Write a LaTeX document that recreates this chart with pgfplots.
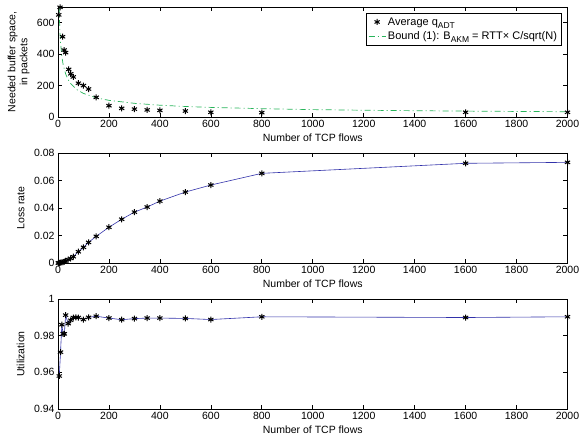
\documentclass[border=0pt]{standalone}
\usepackage{fontspec}
\setmainfont{Liberation Sans}
\usepackage{pgfplots}
\pgfplotsset{compat=1.18}

\definecolor{bndgreen}{RGB}{40,180,90}
\definecolor{lineblue}{RGB}{50,50,170}
\newcommand{\sub}[1]{\raisebox{-3pt}{\fontsize{8.5}{8.5}\selectfont #1}}

\pgfplotsset{
  panel/.style={
    scale only axis, width=509.5pt, height=110pt,
    xmin=0, xmax=2000, xtick={0,200,...,2000},
    tick align=inside, major tick length=4pt,
    axis line style={line width=0.8pt}, every tick/.style={black, line width=0.6pt},
    tick label style={font=\fontsize{10.5}{12}\selectfont},
    label style={font=\fontsize{10.5}{12}\selectfont},
    /pgf/number format/assume math mode=true,
    /pgf/number format/set thousands separator={},
    scaled ticks=false, clip=false,
    xlabel={Number of TCP flows},
    xlabel style={yshift=1pt},
    ylabel style={at={(axis description cs:0,0.5)}, anchor=south, yshift=30pt},
  },
  star/.style={only marks, mark=asterisk, mark size=3pt, black, line width=1pt},
}

\begin{document}
\begin{tikzpicture}
\path[use as bounding box] (-58pt,-326pt) rectangle (521pt,117pt);

% buffer space
\begin{axis}[panel, ymin=0, ymax=700, ytick={0,200,400,600},
  ylabel={Needed buffer space,\\in packets},
  ylabel style={align=center, yshift=-5pt},
  legend style={at={(rel axis cs:0.988,0.945)}, anchor=north east,
    font=\fontsize{11}{13}\selectfont, draw=black, line width=0.8pt,
    row sep=1pt, inner sep=2pt},
  legend cell align=left]
\addplot[star] coordinates {
 (3,650) (8,698) (18,511) (24,426) (30,410) (42,303) (50,275) (60,255)
 (80,215) (100,200) (120,178) (150,125) (200,72) (250,55) (300,50)
 (350,45) (400,42) (500,38) (600,30) (800,28) (1600,30) (2000,30)};
\addlegendentry{Average q\sub{ADT}}
\addplot[bndgreen, line width=0.7pt, dash pattern=on 6pt off 3pt on 1pt off 3pt] coordinates {
 (4.6,700) (6,612) (8,530) (10,474) (15,387) (20,335) (30,274) (40,237)
 (50,212) (75,173) (100,150) (150,122) (200,106) (300,87) (400,75)
 (500,67) (600,61) (800,53) (1000,47) (1200,43) (1400,40) (1600,37.5)
 (1800,35.4) (2000,33.5)};
\addlegendentry{Bound (1): B\sub{AKM} = RTT× C/sqrt(N)}
\end{axis}

% loss rate
\begin{axis}[panel, at={(0,-146pt)}, ymin=0, ymax=0.08,
  ytick={0,0.02,0.04,0.06,0.08},
  yticklabel style={/pgf/number format/fixed, /pgf/number format/precision=2},
  ylabel={Loss rate}]
\addplot[lineblue, line width=0.6pt] coordinates {
 (1,0) (3,0) (5,0.0001) (10,0.0002) (15,0.0004) (20,0.0007) (25,0.001)
 (30,0.0015) (40,0.0025) (50,0.0033) (60,0.0046) (80,0.0082) (100,0.0114)
 (120,0.015) (150,0.0194) (200,0.026) (250,0.0318) (300,0.037)
 (350,0.0407) (400,0.045) (500,0.0516) (600,0.0567) (800,0.0652)
 (1600,0.0725) (2000,0.0732)};
\addplot[star] coordinates {
 (1,0) (3,0) (5,0.0001) (10,0.0002) (15,0.0004) (20,0.0007) (25,0.001)
 (30,0.0015) (40,0.0025) (50,0.0033) (60,0.0046) (80,0.0082) (100,0.0114)
 (120,0.015) (150,0.0194) (200,0.026) (250,0.0318) (300,0.037)
 (350,0.0407) (400,0.045) (500,0.0516) (600,0.0567) (800,0.0652)
 (1600,0.0725) (2000,0.0732)};
\end{axis}

% utilization
\begin{axis}[panel, at={(0,-292pt)}, ymin=0.94, ymax=1,
  ytick={0.94,0.96,0.98,1},
  yticklabel style={/pgf/number format/fixed, /pgf/number format/precision=2},
  ylabel={Utilization}]
\addplot[lineblue, line width=0.6pt] coordinates {
 (5,0.958) (10,0.971) (15,0.986) (20,0.981) (25,0.981) (30,0.9912)
 (40,0.9866) (50,0.9884) (60,0.9899) (70,0.990) (80,0.9899) (100,0.9888)
 (120,0.990) (150,0.9906) (200,0.9896) (250,0.9887) (300,0.9893)
 (350,0.9896) (400,0.9896) (500,0.9894) (600,0.9888) (800,0.9903)
 (1600,0.9899) (2000,0.9903)};
\addplot[star] coordinates {
 (5,0.958) (10,0.971) (15,0.986) (20,0.981) (25,0.981) (30,0.9912)
 (40,0.9866) (50,0.9884) (60,0.9899) (70,0.990) (80,0.9899) (100,0.9888)
 (120,0.990) (150,0.9906) (200,0.9896) (250,0.9887) (300,0.9893)
 (350,0.9896) (400,0.9896) (500,0.9894) (600,0.9888) (800,0.9903)
 (1600,0.9899) (2000,0.9903)};
\end{axis}
\end{tikzpicture}
\end{document}
